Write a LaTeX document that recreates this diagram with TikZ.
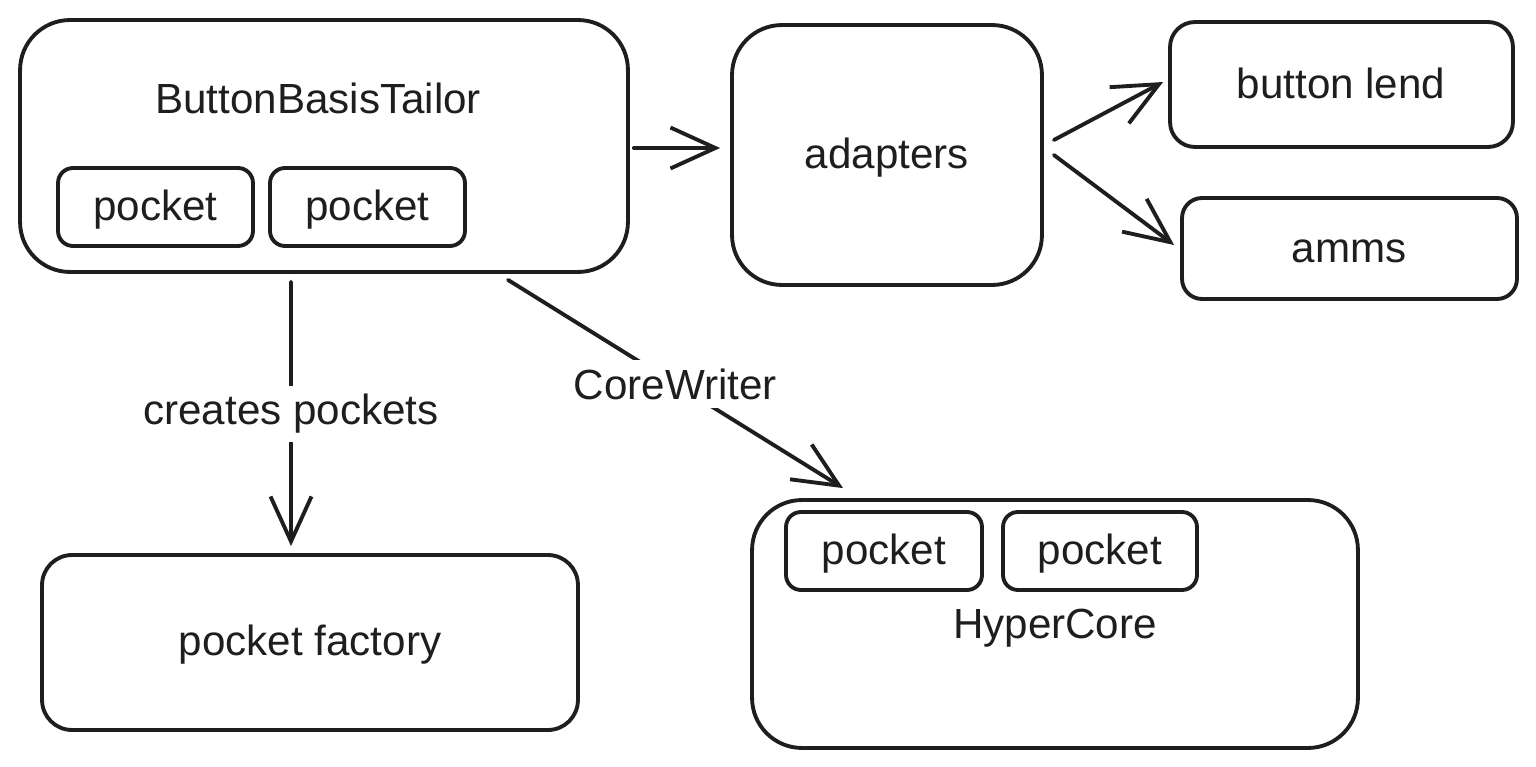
\documentclass[tikz,border=0pt]{standalone}
\usepackage{fontspec}
\setmainfont{Liberation Sans}
\usetikzlibrary{arrows.meta,calc}
\definecolor{ink}{HTML}{1E1E1E}
\begin{document}
\begin{tikzpicture}[x=0.02cm,y=-0.02cm,
  box/.style={draw=ink, line width=2.2pt, fill=none, inner sep=0pt},
  lbl/.style={font=\fontsize{24}{28}\selectfont, text=ink, inner sep=2pt, yshift=-0.06cm},
  arr/.style={draw=ink, line width=2.2pt, line cap=round,
    -{Straight Barb[length=0.9cm, width=0.82cm, line width=2.2pt]}},
  elbl/.style={font=\fontsize{24}{28}\selectfont, text=ink, fill=white, inner sep=5pt}
]
\useasboundingbox (0,0) rectangle (1536,767);
% main boxes
\node[box, rounded corners=1cm, minimum width=12.16cm, minimum height=5.04cm] (bbt) at (324,146) {};
\node[lbl] (bbtl) at (318,95) {ButtonBasisTailor};
\node[box, rounded corners=0.3cm, minimum width=3.9cm, minimum height=1.56cm] (p1) at (155.5,207) {};
\node[lbl] (p1l) at (155.5,207) {pocket};
\node[box, rounded corners=0.3cm, minimum width=3.9cm, minimum height=1.56cm] (p2) at (367.5,207) {};
\node[lbl] (p2l) at (367.5,207) {pocket};

\node[box, rounded corners=1cm, minimum width=6.2cm, minimum height=5.2cm] (ad) at (887,155) {};
\node[lbl] (adl) at (887,155) {adapters};

\node[box, rounded corners=0.5cm, minimum width=6.86cm, minimum height=2.5cm] (bl) at (1341.5,84.5) {};
\node[lbl] (bll) at (1341,80) {button lend};

\node[box, rounded corners=0.4cm, minimum width=6.7cm, minimum height=2.02cm] (am) at (1349.5,248.5) {};
\node[lbl] (aml) at (1349,248) {amms};

\node[box, rounded corners=0.6cm, minimum width=10.72cm, minimum height=3.5cm] (pf) at (310,642.5) {};
\node[lbl] (pfl) at (310,642) {pocket factory};

\node[box, rounded corners=1cm, minimum width=12.12cm, minimum height=4.96cm] (hc) at (1055,624) {};
\node[lbl] (hcl) at (1055,625) {HyperCore};
\node[box, rounded corners=0.3cm, minimum width=3.92cm, minimum height=1.56cm] (p3) at (884,551) {};
\node[lbl] (p3l) at (884,551) {pocket};
\node[box, rounded corners=0.3cm, minimum width=3.88cm, minimum height=1.56cm] (p4) at (1100,551) {};
\node[lbl] (p4l) at (1100,551) {pocket};

% connectors
\draw[arr] ([xshift=0.08cm,yshift=-0.04cm]bbt.east) -- ([xshift=-0.2cm,yshift=-0.04cm]ad.west |- bbt.east);
\draw[arr] ([shift={(0.2cm,0.3cm)}]ad.east) -- ([shift={(-0.1cm,0.05cm)}]bl.west);
\draw[arr] ([xshift=0.2cm]ad.east) -- ([shift={(-0.12cm,0.07cm)}]am.west);
\draw[arr] ([shift={(-0.66cm,-0.16cm)}]bbt.south) -- node[elbl, pos=0.5] (cp) {creates pockets} ([shift={(-0.38cm,0.14cm)}]pf.north);
\draw[arr] ([shift={(3.68cm,-0.12cm)}]bbt.south) -- node[elbl, pos=0.5] (cw) {CoreWriter} ([shift={(-4.24cm,0.2cm)}]hc.north);
\end{tikzpicture}
\end{document}
